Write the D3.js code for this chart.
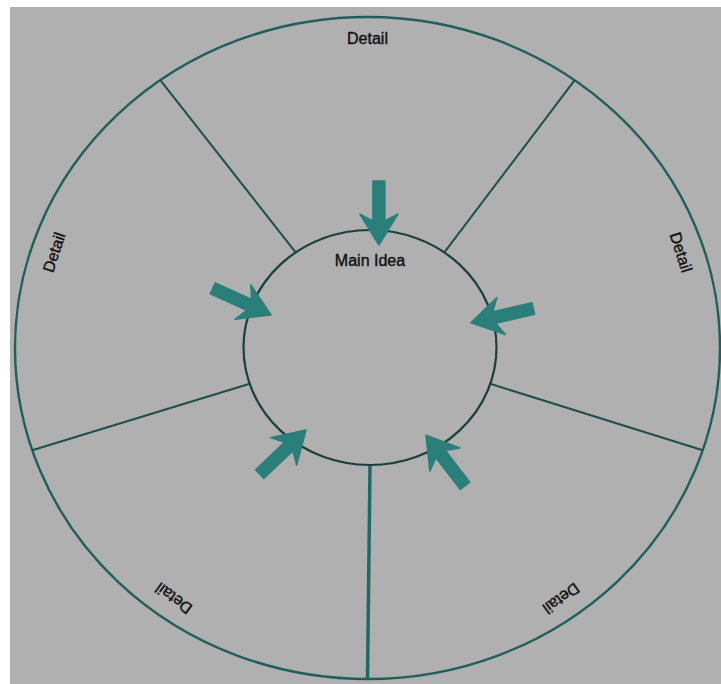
<!DOCTYPE html>
<html><head><meta charset="utf-8">
<script src="https://cdn.jsdelivr.net/npm/d3@7"></script>
<style>html,body{margin:0;padding:0;background:#fff;}svg{display:block;}</style>
</head><body>
<script>
// ---- data ----
const detailLabels = ["Detail", "Detail", "Detail", "Detail", "Detail"];
const detailAngles = [0, 72, 144, 216, 288];          // degrees, clockwise from top
const spokeAngles = [36, 108, 180, 252, 324];
const centerLabel = "Main Idea";
const arrowAngles = [4.6, 75.3, 149.3, 215.8, 289.5]; // where arrow tips sit on the main circle
const arrowTipR = [0.875, 0.825, 0.867, 0.865, 0.83];
const arrowHeadings = [90, 167, -127.6, -43.7, 24.6]; // screen direction of each arrow

const W = 721, H = 684;
const svg = d3.select("body").append("svg").attr("width", W).attr("height", H);
svg.append("rect").attr("x", 10).attr("y", 7).attr("width", W - 10).attr("height", H - 7).attr("fill", "#b0b0b0");

// outer ring scales (unit circle -> pixels)
const xo = d3.scaleLinear().domain([-1, 1]).range([15, 720]);
const yo = d3.scaleLinear().domain([-1, 1]).range([17, 679]);
// inner ring scales
const xi = d3.scaleLinear().domain([-1, 1]).range([243.5, 496.5]);
const yi = d3.scaleLinear().domain([-1, 1]).range([230, 465]);

const rad = d => d * Math.PI / 180;
const ux = (a, r) => Math.sin(rad(a)) * r;
const uy = (a, r) => -Math.cos(rad(a)) * r;

// outer circle
svg.append("ellipse")
  .attr("cx", xo(0)).attr("cy", yo(0))
  .attr("rx", xo(1) - xo(0)).attr("ry", yo(1) - yo(0))
  .attr("fill", "none").attr("stroke", "#1f5f5c").attr("stroke-width", 2.4);

// spokes
svg.selectAll("line.spoke").data(spokeAngles).join("line")
  .attr("class", "spoke")
  .attr("x1", a => xi(ux(a, 1))).attr("y1", a => yi(uy(a, 1)))
  .attr("x2", a => xo(ux(a, 1))).attr("y2", a => yo(uy(a, 1)))
  .attr("stroke", a => a === 180 ? "#1e6a67" : "#1f4e4c")
  .attr("stroke-width", a => a === 180 ? 3.5 : 2);

// inner circle
svg.append("ellipse")
  .attr("cx", xi(0)).attr("cy", yi(0))
  .attr("rx", xi(1) - xi(0)).attr("ry", yi(1) - yi(0))
  .attr("fill", "none").attr("stroke", "#1c3f3e").attr("stroke-width", 2.2);

// arrows
const arrowShape = [[0, 0], [-31, -19], [-24, -6], [-64, -6], [-64, 6], [-24, 6], [-31, 19]];
svg.selectAll("polygon.arrow").data(arrowAngles).join("polygon")
  .attr("class", "arrow")
  .attr("points", arrowShape.map(p => p.join(",")).join(" "))
  .attr("transform", (a, i) => `translate(${xi(ux(a, arrowTipR[i]))},${yi(uy(a, arrowTipR[i]))}) rotate(${arrowHeadings[i]})`)
  .attr("fill", "#2a7f7b").attr("stroke", "#2a7f7b").attr("stroke-width", 1.5).attr("stroke-linejoin", "round");

// detail labels
svg.selectAll("text.detail").data(detailLabels).join("text")
  .attr("class", "detail")
  .attr("transform", (d, i) => `translate(${xo(ux(detailAngles[i], 0.935))},${yo(uy(detailAngles[i], 0.935))}) rotate(${detailAngles[i]})`)
  .attr("text-anchor", "middle").attr("dominant-baseline", "central")
  .attr("font-family", "Liberation Sans, Arial, sans-serif").attr("font-size", 16)
  .attr("fill", "#111").attr("stroke", "#111").attr("stroke-width", 0.4).text(d => d);

// center label
svg.append("text")
  .attr("x", xi(0)).attr("y", yi(uy(0, 0.74)))
  .attr("text-anchor", "middle").attr("dominant-baseline", "central")
  .attr("font-family", "Liberation Sans, Arial, sans-serif").attr("font-size", 16)
  .attr("fill", "#111").attr("stroke", "#111").attr("stroke-width", 0.4).text(centerLabel);
</script>
</body></html>
